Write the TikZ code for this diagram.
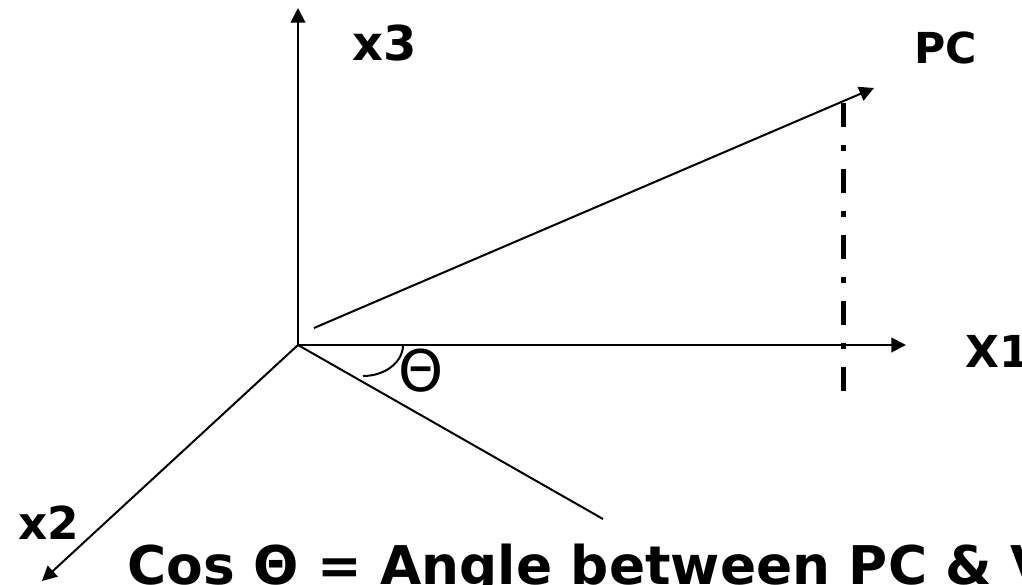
\documentclass[tikz,border=0pt]{standalone}
\usepackage{fontspec}
\newfontfamily\lblfont{DejaVu Sans}
\usetikzlibrary{arrows.meta}

\begin{document}
\begin{tikzpicture}[
  x=0.75pt, y=-0.75pt,
  axis/.style={-{Triangle[length=11pt,width=11pt]}, line width=1.5pt},
  vec/.style={line width=1.5pt},
  proj/.style={line width=3.75pt, dash pattern=on 18pt off 13.5pt on 4.5pt off 13.5pt},
  lbl/.style={inner sep=0pt, font=\lblfont\bfseries\fontsize{34pt}{40pt}\selectfont}
]
  \useasboundingbox[fill=white] (0,0) rectangle (1022,585);

  % Ejes
  \coordinate (O) at (298,345);
  \coordinate (x1tip) at (906,345);
  \coordinate (x2tip) at (42,581);
  \coordinate (x3tip) at (298,8);

  \draw[axis] (O) -- (x3tip);
  \draw[axis] (O) -- (x1tip);
  \draw[axis] (O) -- (x2tip);

  % Vectores
  \coordinate (pcstart) at (314,328);
  \coordinate (pctip) at (874,88);
  \coordinate (vend) at (603,519);

  \draw[axis] (pcstart) -- (pctip);
  \draw[vec] (O) -- (vend);

  % Proyeccion
  \coordinate (d1) at (843,103);
  \coordinate (d2) at (843,391);
  \draw[proj] (d1) -- (d2);

  % Angulo
  \coordinate (a1) at (403,345);
  \draw[vec] (a1) arc[start angle=0, end angle=90, x radius=40, y radius=31];

  % Etiquetas
  \node[lbl, font=\lblfont\bfseries\fontsize{36pt}{42pt}\selectfont] (lx3) at (385,43) {x3};
  \node[lbl, font=\lblfont\bfseries\fontsize{32pt}{38pt}\selectfont] (lpc) at (946,48) {PC};
  \node[lbl, font=\lblfont\bfseries\fontsize{33pt}{38pt}\selectfont, anchor=west] (lx1) at (965,351) {X1};
  \node[lbl] (lx2) at (49,523) {x2};
  \node[inner sep=0pt, font=\lblfont\fontsize{43pt}{48pt}\selectfont] (lth) at (421,371) {Θ};

  \node[lbl, font=\lblfont\bfseries\fontsize{40pt}{46pt}\selectfont, anchor=base west] (lcos) at (127,584)
    {Cos Θ = Angle between PC \& V};
\end{tikzpicture}
\end{document}
